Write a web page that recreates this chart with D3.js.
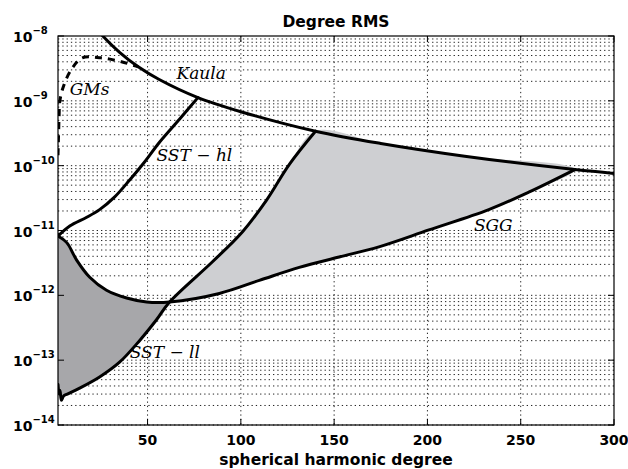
<!DOCTYPE html>
<html><head><meta charset="utf-8">
<script src="https://cdn.jsdelivr.net/npm/d3@7"></script>
<style>body{margin:0;background:#fff}svg{display:block}</style>
</head><body>
<svg id="c" width="628" height="469"></svg>
<script>
// ---- data ----
const xTicks = [50, 100, 150, 200, 250, 300];
const yExps = [-8, -9, -10, -11, -12, -13, -14];
const kaula = [[24,1.17e-8],[26,1.0e-8],[35,5.6e-9],[45,3.35e-9],[56,2.15e-9],[77,1.12e-9],[100,6.8e-10],[140,3.4e-10],[175,2.2e-10],[220,1.4e-10],[279,8.7e-11],[300,7.6e-11]];
const gms = [[2,1.45e-10],[2.3,3e-10],[2.6,6e-10],[3,1.0e-9],[5,1.7e-9],[9,3.0e-9],[15,4.6e-9],[25,4.6e-9],[36,4.0e-9],[45,3.35e-9]];
const sstHl = [[2,8.2e-12],[8.3,1.17e-11],[17.4,1.6e-11],[24.3,2.1e-11],[32.4,3.3e-11],[40.4,6.0e-11],[48.4,1.14e-10],[56.4,2.3e-10],[67.1,5.2e-10],[77,1.12e-9]];
const sstLl = [[2,4.2e-14],[2.6,3.0e-14],[3.1,3.4e-14],[3.8,2.4e-14],[5,2.8e-14],[7,3.0e-14],[13.6,3.7e-14],[24.3,5.5e-14],[35,9.3e-14],[45.7,2.0e-13],[54.8,4.2e-13],[61.8,7.9e-13],[84.8,3.3e-12],[100.8,9.5e-12],[113.6,2.9e-11],[126,1.05e-10],[140,3.4e-10]];
const sgg = [[2,8.2e-12],[6.7,6.5e-12],[12,3.5e-12],[19,1.9e-12],[28,1.2e-12],[38.8,9.1e-13],[49.5,7.9e-13],[61.8,7.9e-13],[88.5,1.07e-12],[109.9,1.7e-12],[131.3,2.7e-12],[152.7,3.9e-12],[174,5.6e-12],[200.8,1.02e-11],[232.9,2.1e-11],[254.3,3.9e-11],[279,8.7e-11]];
const cross = 61.8;

// ---- drawing ----
const svg = d3.select("#c");
const L = 58, R = 614, T = 36, B = 425;
const x = d3.scaleLinear().domain([2, 300]).range([L, R]);
const y = d3.scaleLog().domain([1e-14, 1e-8]).range([B, T]);

svg.append("defs").append("clipPath").attr("id","clip")
  .append("rect").attr("x",L).attr("y",T).attr("width",R-L).attr("height",B-T);

const dot = "#222";
// horizontal grid (major + minor)
const hg = [];
for (let e = -14; e < -8; e++) for (let m = 1; m <= 9; m++) hg.push(m * Math.pow(10, e));
svg.append("g").selectAll("line").data(hg).join("line")
  .attr("x1", L).attr("x2", R).attr("y1", d => y(d)).attr("y2", d => y(d))
  .attr("stroke", dot).attr("stroke-width", 1).attr("stroke-dasharray", "1.3,3");
// vertical grid
svg.append("g").selectAll("line").data(xTicks.slice(0, -1)).join("line")
  .attr("x1", d => x(d)).attr("x2", d => x(d)).attr("y1", T).attr("y2", B)
  .attr("stroke", dot).attr("stroke-width", 1).attr("stroke-dasharray", "1.3,3");

const line = d3.line().x(d => x(d[0])).y(d => y(d[1])).curve(d3.curveCatmullRom.alpha(0.5));

const g = svg.append("g").attr("clip-path", "url(#clip)");

// dark region: SGG left part, then SST-ll back
const darkPts = sgg.filter(d => d[0] <= cross).concat(sstLl.filter(d => d[0] <= cross).reverse());
g.append("path").attr("d", line(darkPts) + "Z").attr("fill", "#a7a7aa").attr("stroke", "none");
// light region: SST-ll from crossing, Kaula 140..279, SGG back
const k1 = kaula.filter(d => d[0] > 140 && d[0] < 279);
const lightPts = sstLl.filter(d => d[0] >= cross).concat(k1, sgg.filter(d => d[0] >= cross).reverse());
g.append("path").attr("d", line(lightPts) + "Z").attr("fill", "#cecfd2").attr("stroke", "none");

const curves = [kaula, sstHl, sstLl, sgg];
g.selectAll("path.c").data(curves).join("path").attr("class","c")
  .attr("d", d => line(d)).attr("fill", "none").attr("stroke", "#000")
  .attr("stroke-width", 3).attr("stroke-linejoin", "round").attr("stroke-linecap", "round");
g.append("path").attr("d", line(gms)).attr("fill", "none").attr("stroke", "#000")
  .attr("stroke-width", 3).attr("stroke-dasharray", "7,6");

// frame
svg.append("rect").attr("x", L).attr("y", T).attr("width", R - L).attr("height", B - T)
  .attr("fill", "none").attr("stroke", "#000").attr("stroke-width", 1.2);

// ticks
const tk = svg.append("g").attr("stroke", "#000").attr("stroke-width", 1);
xTicks.forEach(v => {
  tk.append("line").attr("x1", x(v)).attr("x2", x(v)).attr("y1", B).attr("y2", B - 6);
  tk.append("line").attr("x1", x(v)).attr("x2", x(v)).attr("y1", T).attr("y2", T + 6);
});
yExps.forEach(e => {
  const v = Math.pow(10, e);
  tk.append("line").attr("x1", L).attr("x2", L + 6).attr("y1", y(v)).attr("y2", y(v));
  tk.append("line").attr("x1", R).attr("x2", R - 6).attr("y1", y(v)).attr("y2", y(v));
});

const sans = "'DejaVu Sans', 'Liberation Sans', Arial, sans-serif";
// x tick labels
svg.append("g").selectAll("text").data(xTicks).join("text")
  .attr("x", d => x(d)).attr("y", 445).attr("text-anchor", "middle")
  .attr("font-family", sans).attr("font-weight", "bold").attr("font-size", 14)
  .text(d => d);
// y tick labels
const yl = svg.append("g").selectAll("text").data(yExps).join("text")
  .attr("x", 13).attr("y", d => y(Math.pow(10, d)) + 6)
  .attr("font-family", sans).attr("font-weight", "bold").attr("font-size", 14);
yl.append("tspan").text("10");
yl.append("tspan").attr("dy", -8).attr("font-size", 10).text(d => "\u2212" + (-d));

svg.append("text").attr("x", (L + R) / 2).attr("y", 27).attr("text-anchor", "middle")
  .attr("font-family", sans).attr("font-weight", "bold").attr("font-size", 15.5).text("Degree RMS");
svg.append("text").attr("x", (L + R) / 2).attr("y", 465).attr("text-anchor", "middle")
  .attr("font-family", sans).attr("font-weight", "bold").attr("font-size", 15.5).text("spherical harmonic degree");

// curve labels (italic serif)
const serif = "'DejaVu Serif', 'Liberation Serif', serif";
const labs = [["Kaula", 65.5, 2.2e-9], ["GMs", 8.3, 1.23e-9], ["SST \u2212 hl", 54.8, 1.18e-10], ["SST \u2212 ll", 40.4, 1.07e-13], ["SGG", 224.9, 9.8e-12]];
svg.append("g").selectAll("text").data(labs).join("text")
  .attr("x", d => x(d[1])).attr("y", d => y(d[2]))
  .attr("font-family", serif).attr("font-style", "italic").attr("font-size", 17)
  .text(d => d[0]);
</script>
</body></html>
